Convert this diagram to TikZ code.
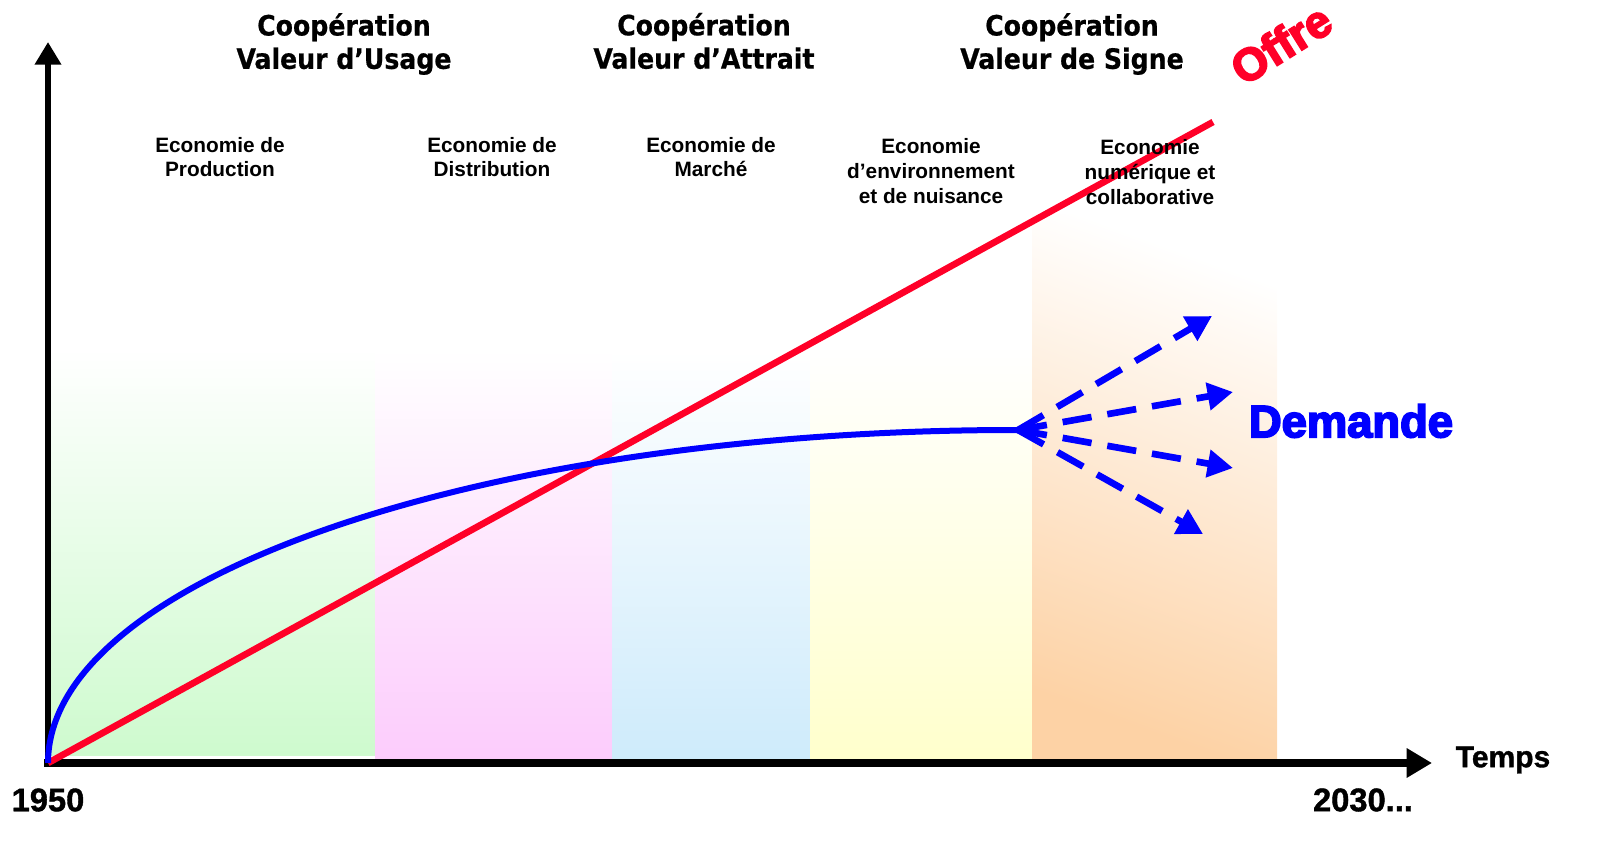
\documentclass[tikz,border=0pt]{standalone}
\usepackage{fontspec}
\setmainfont{Liberation Sans}
\newfontfamily\titrefont{DejaVu Sans Condensed}[BoldFeatures={FakeBold=0.6}]
\newfontfamily\noirfont{Liberation Sans}[BoldFeatures={FakeBold=4}]
\newfontfamily\axefont{Liberation Sans}[BoldFeatures={FakeBold=1.2}]
\usetikzlibrary{arrows.meta}
\definecolor{offrered}{RGB}{255,0,40}
\definecolor{demblue}{RGB}{0,0,255}
\definecolor{pvert}{RGB}{206,250,206}
\definecolor{prose}{RGB}{252,204,252}
\definecolor{pbleu}{RGB}{206,235,251}
\definecolor{pjaune}{RGB}{255,255,204}
\definecolor{porange}{RGB}{253,210,165}

\begin{document}
\begin{tikzpicture}[x=0.75pt,y=-0.75pt,
  titre/.style={font=\titrefont\bfseries\fontsize{21}{25}\selectfont,align=center,inner sep=0pt},
  eco/.style={font=\bfseries\fontsize{15.6}{18.5}\selectfont,align=center,inner sep=0pt},
  annee/.style={font=\axefont\bfseries\fontsize{24.5}{28}\selectfont,inner sep=0pt}]
  \useasboundingbox (0,0) rectangle (1620,841);

  % periodes
  \fill[top color=white,bottom color=pvert] (48,348) rectangle (375,755);
  \fill[top color=white,bottom color=prose] (375,350) rectangle (612,760);
  \fill[top color=white,bottom color=pbleu] (612,350) rectangle (810,760);
  \fill[top color=white,bottom color=pjaune] (810,345) rectangle (1032,760);
  \fill[top color=white,bottom color=porange,shading angle=-20] (1032,215) rectangle (1277,760);

  \coordinate (O) at (48,763);
  \coordinate (ytop) at (48,42);
  \coordinate (xend) at (1432,763);
  \coordinate (offrefin) at (1213,122);
  \coordinate (palier) at (1018,430);
  \coordinate (d1) at (1212,316);
  \coordinate (d2) at (1233,392);
  \coordinate (d3) at (1233,468);
  \coordinate (d4) at (1203,534);

  % axes
  \draw[line width=5pt,line cap=rect,-{Triangle[length=17pt,width=19pt]}] (O) -- (ytop);
  \draw[line width=6pt,line cap=rect,-{Triangle[length=19pt,width=21pt]}] (O) -- (xend);

  % offre et demande
  \draw[offrered,line width=5pt] (O) -- (offrefin);
  \draw[demblue,line width=4.5pt] (O) arc[start angle=180,end angle=270,x radius=967,y radius=333] -- (palier);
  \foreach \d in {d1,d2,d3,d4}
    \draw[demblue,line width=5pt,dash pattern=on 22pt off 12pt,-{Triangle[length=19pt,width=20pt]}] (palier) -- (\d);

  \node[titre] (usage) at (344,44) {Coopération\\Valeur d’Usage};
  \node[titre] (attrait) at (704,41) {Coopération\\Valeur d’Attrait};
  \node[titre] (signe) at (1072,44) {Coopération\\Valeur de Signe};

  \node[eco] (prod) at (220,157) {Economie de\\Production};
  \node[eco] (distrib) at (492,157) {Economie de\\Distribution};
  \node[eco] (marche) at (711,157) {Economie de\\Marché};
  \node[eco] (envir) at (931,171) {Economie\\d’environnement\\et de nuisance};
  \node[eco] (numer) at (1150,172) {Economie\\numérique et\\collaborative};

  \node[font=\noirfont\bfseries\fontsize{34}{40}\selectfont,text=demblue,inner sep=0pt] (demande) at (1351,421) {Demande};
  \node[font=\noirfont\bfseries\fontsize{34}{40}\selectfont,text=offrered,rotate=32,inner sep=0pt] (offre) at (1281,44) {Offre};

  \node[font=\axefont\bfseries\fontsize{22.5}{26}\selectfont,inner sep=0pt] (temps) at (1503,760) {Temps};
  \node[annee] (debut) at (48,800) {1950};
  \node[annee] (fin) at (1363,800) {2030...};
\end{tikzpicture}
\end{document}
